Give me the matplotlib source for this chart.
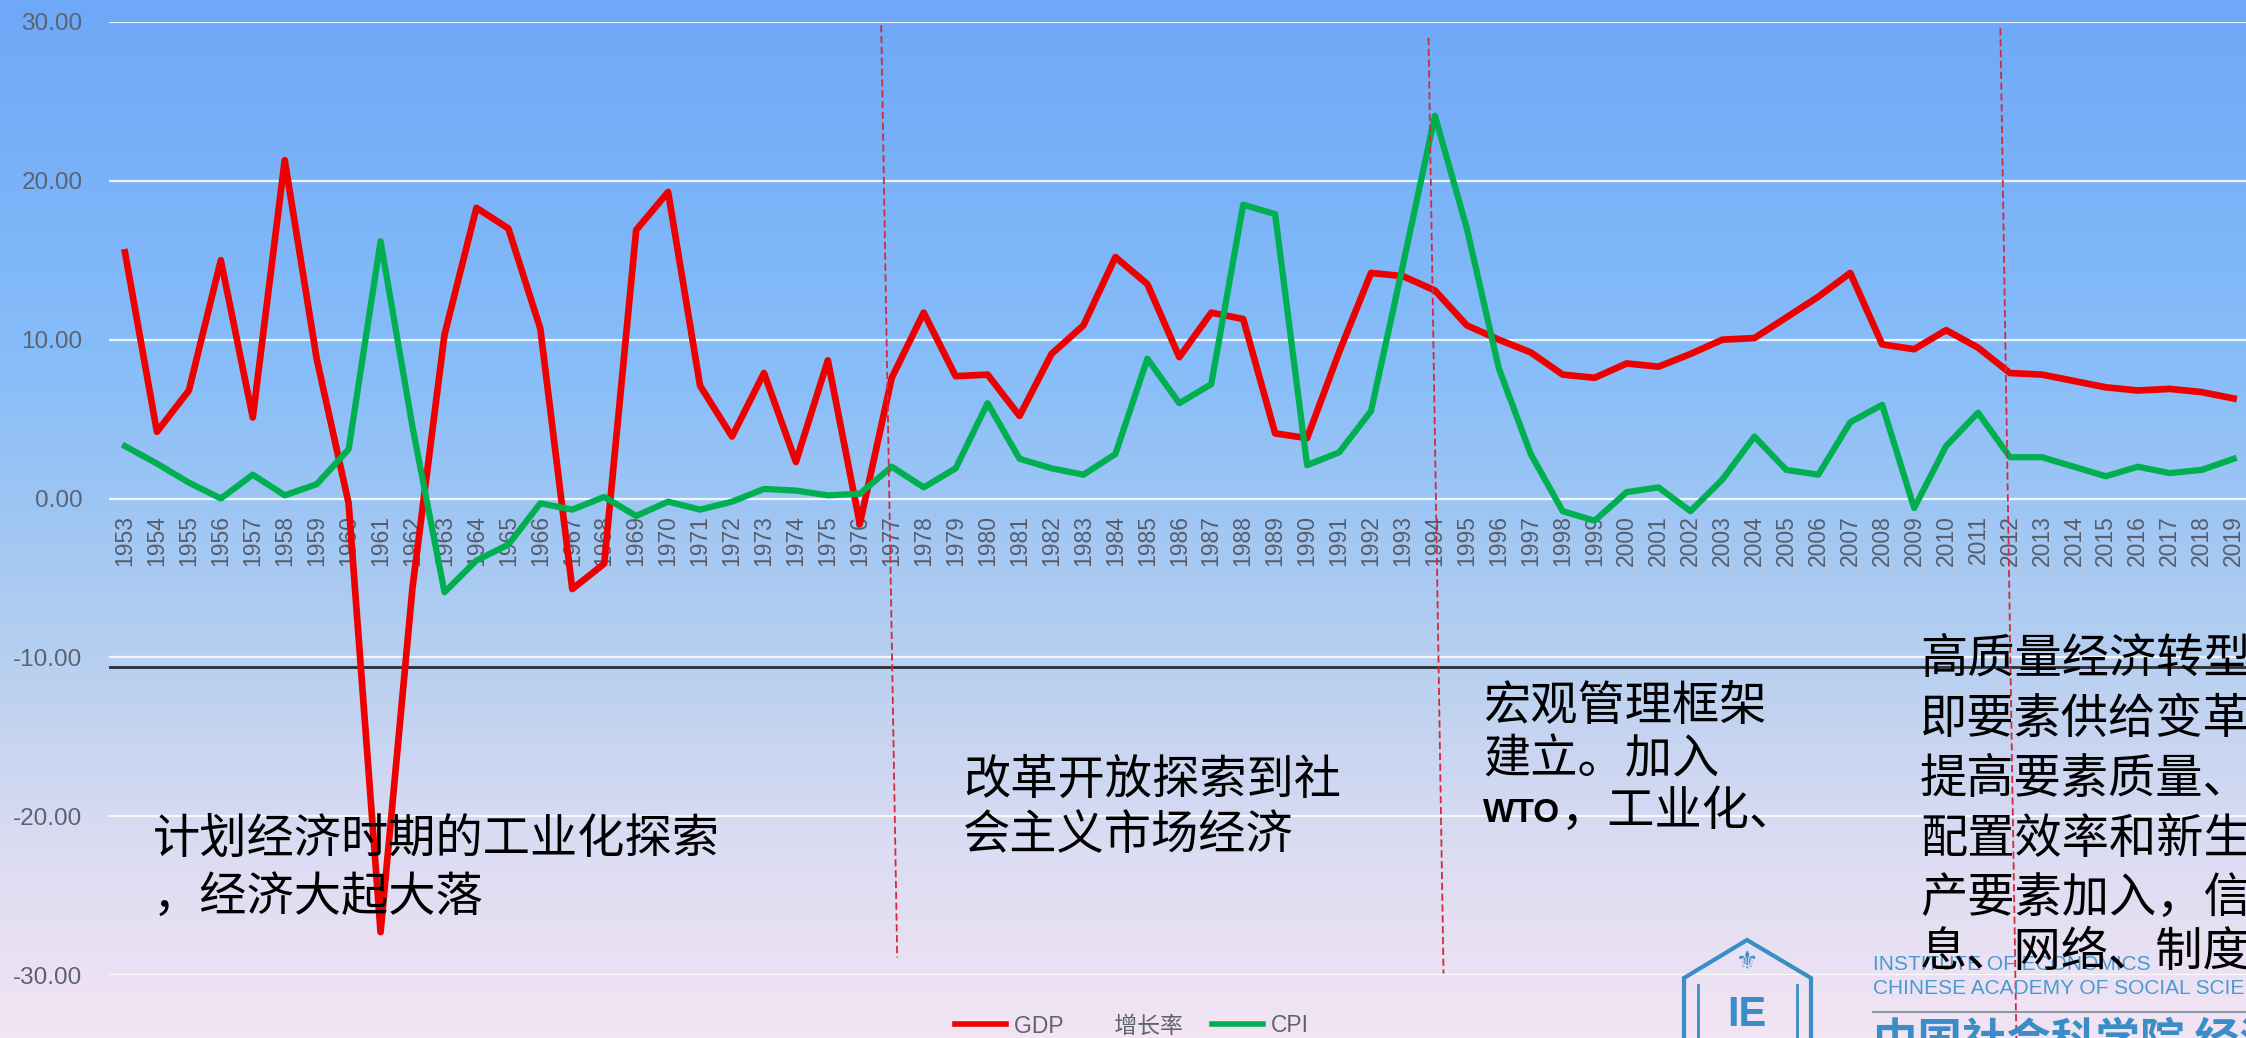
import numpy as np
import matplotlib
matplotlib.use("Agg")
import matplotlib.pyplot as plt
from matplotlib.colors import LinearSegmentedColormap
from matplotlib.patches import Polygon
from matplotlib.lines import Line2D

plt.rcParams["font.family"] = ["Liberation Sans", "Noto Sans CJK SC"]
plt.rcParams["axes.unicode_minus"] = False

# data
years = list(range(1953, 2020))
gdp_growth = [15.5, 4.2, 6.8, 15.0, 5.1, 21.3, 8.8, -0.3, -27.3, -5.6,
              10.3, 18.3, 17.0, 10.7, -5.7, -4.1, 16.9, 19.3, 7.1, 3.9,
              7.9, 2.3, 8.7, -1.6, 7.6, 11.7, 7.7, 7.8, 5.2, 9.1,
              10.9, 15.2, 13.5, 8.9, 11.7, 11.3, 4.1, 3.8, 9.2, 14.2,
              14.0, 13.1, 10.9, 10.0, 9.2, 7.8, 7.6, 8.5, 8.3, 9.1,
              10.0, 10.1, 11.4, 12.7, 14.2, 9.7, 9.4, 10.6, 9.5, 7.9,
              7.8, 7.4, 7.0, 6.8, 6.9, 6.7, 6.3]
cpi = [3.3, 2.2, 1.0, 0.0, 1.5, 0.2, 0.9, 3.1, 16.2, 4.5,
       -5.9, -3.9, -2.9, -0.3, -0.7, 0.1, -1.1, -0.2, -0.7, -0.2,
       0.6, 0.5, 0.2, 0.3, 2.0, 0.7, 1.9, 6.0, 2.5, 1.9,
       1.5, 2.8, 8.8, 6.0, 7.2, 18.5, 17.9, 2.1, 2.9, 5.5,
       14.7, 24.1, 17.0, 8.2, 2.8, -0.8, -1.4, 0.4, 0.7, -0.8,
       1.2, 3.9, 1.8, 1.5, 4.8, 5.9, -0.6, 3.3, 5.4, 2.6,
       2.6, 2.0, 1.4, 2.0, 1.6, 1.8, 2.5]
series_labels = ["GDP        增长率", "CPI"]
divider_years = [1977, 1994, 2012]
baseline_value = -10.6
y_ticks = [-30, -20, -10, 0, 10, 20, 30]

period_notes = [
    (153, 840, "计划经济时期的工业化探索"),
    (153, 898, "，经济大起大落"),
    (963, 781, "改革开放探索到社"),
    (963, 836, "会主义市场经济"),
    (1483, 707, "宏观管理框架"),
    (1483, 760, "建立。加入"),
    (1920, 660, "高质量经济转型"),
    (1920, 720, "即要素供给变革"),
    (1920, 780, "提高要素质量、"),
    (1920, 840, "配置效率和新生"),
    (1920, 900, "产要素加入，信"),
    (1920, 953, "息、网络、制度"),
]

W, H = 2246, 1038
fig = plt.figure(figsize=(W / 100, H / 100), dpi=100)


def fx(x):
    return x / W


def fy(y):
    return 1 - y / H


# background gradient
bg = fig.add_axes([0, 0, 1, 1], zorder=-10)
cmap = LinearSegmentedColormap.from_list(
    "bg", [(0.0, "#6ea8f7"), (0.35, "#87bdf9"), (0.6, "#b0cdf0"),
           (0.82, "#dcdcf2"), (1.0, "#f3e4f4")])
bg.imshow(np.linspace(0, 1, 256).reshape(-1, 1), aspect="auto", cmap=cmap,
          extent=[0, 1, 0, 1])
bg.axis("off")

ax = fig.add_axes([fx(109), fy(975), 2140.6 / W, (975 - 22) / H], zorder=1)
ax.patch.set_alpha(0)
for s in ax.spines.values():
    s.set_visible(False)
ax.spines["bottom"].set_position(("data", 0))

x = np.arange(len(years))
ax.plot(x, gdp_growth, color="#ee0000", lw=4.8, solid_joinstyle="round",
        zorder=4)
ax.plot(x, cpi, color="#00b050", lw=4.5, solid_joinstyle="round", zorder=4)

ax.set_xlim(-0.5, len(years) - 0.5)
ax.set_ylim(-30, 30)
ax.set_yticks(y_ticks)
ax.set_yticklabels(["{:.2f}".format(v) for v in y_ticks])
ax.set_xticks(x)
ax.set_xticklabels([str(y) for y in years])
ax.tick_params(axis="x", length=0, pad=12, labelsize=16.5, colors="#575c6a",
               labelrotation=90)
ax.tick_params(axis="y", length=0, pad=19, labelsize=17.5, colors="#5b6273")
ax.set_axisbelow(True)
ax.yaxis.grid(True, color="white", lw=1.6, alpha=0.85)

ax.axhline(baseline_value, color="#2a2e36", lw=2, zorder=3)

# period dividers (hand drawn, slightly slanted)
slant = [(-0.33, 0.17, 29.8, -28.9), (-0.2, 0.27, 29.0, -29.9),
         (-0.3, 0.2, 29.6, -34.0)]
for yr, (dt, db, yt, yb) in zip(divider_years, slant):
    i = years.index(yr)
    ax.plot([i + dt, i + db], [yt, yb], color="#d42a3c", lw=1.3,
            ls=(0, (4, 2)), clip_on=False, zorder=5)

# annotations
for px, py, line in period_notes:
    fig.text(fx(px), fy(py), line, fontsize=34, color="black",
             family=["Noto Sans CJK SC"], ha="left", va="center", zorder=6)
fig.text(fx(1483), fy(814), "WTO", fontsize=24, fontweight="bold",
         family=["Liberation Sans"], ha="left", va="center", zorder=6)
fig.text(fx(1561), fy(812), "，工业化、", fontsize=34,
         family=["Noto Sans CJK SC"], ha="left", va="center", zorder=6)

# logo block
blue = "#3a8dc5"
fig.patches.append(Polygon(
    [(fx(1684), 0), (fx(1684), fy(978)), (fx(1747), fy(940)),
     (fx(1811), fy(978)), (fx(1811), 0)],
    closed=False, fill=False, edgecolor=blue, lw=3,
    transform=fig.transFigure, figure=fig, zorder=2))
for lx in (1698, 1797):
    fig.lines.append(Line2D([fx(lx), fx(lx)], [fy(985), 0], color=blue, lw=2,
                            transform=fig.transFigure, figure=fig))
fig.text(fx(1747), fy(1015), "IE", fontsize=30, fontweight="bold", color=blue,
         ha="center", va="center")
fig.text(fx(1747), fy(962), "⚜", fontsize=18, color=blue, ha="center",
         va="center", family=["DejaVu Sans"])
fig.text(fx(1873), fy(964), "INSTITUTE OF ECONOMICS", fontsize=15,
         color="#4a9ad0", ha="left", va="center", zorder=2)
fig.text(fx(1873), fy(989), "CHINESE ACADEMY OF SOCIAL SCIENCES", fontsize=15,
         color="#4a9ad0", ha="left", va="center")
fig.lines.append(Line2D([fx(1873), 1], [fy(1012), fy(1012)], color="#8a9aa8",
                        lw=1.5, transform=fig.transFigure, figure=fig))
fig.text(fx(1873), fy(1019), "中国社会科学院 经济研究所", fontsize=32,
         fontweight="bold", color=blue, ha="left", va="top",
         family=["Noto Sans CJK SC"])

# legend
handles = [Line2D([], [], color="#ee0000", lw=4),
           Line2D([], [], color="#00b050", lw=4)]
fig.legend(handles, series_labels, loc="center",
           bbox_to_anchor=(fx(1132), fy(1026)), ncol=2, frameon=False,
           fontsize=16.5, handlelength=2.2, handletextpad=0.35,
           columnspacing=1.3, labelcolor="#5e6372")

fig.savefig("out.png", dpi=100)
